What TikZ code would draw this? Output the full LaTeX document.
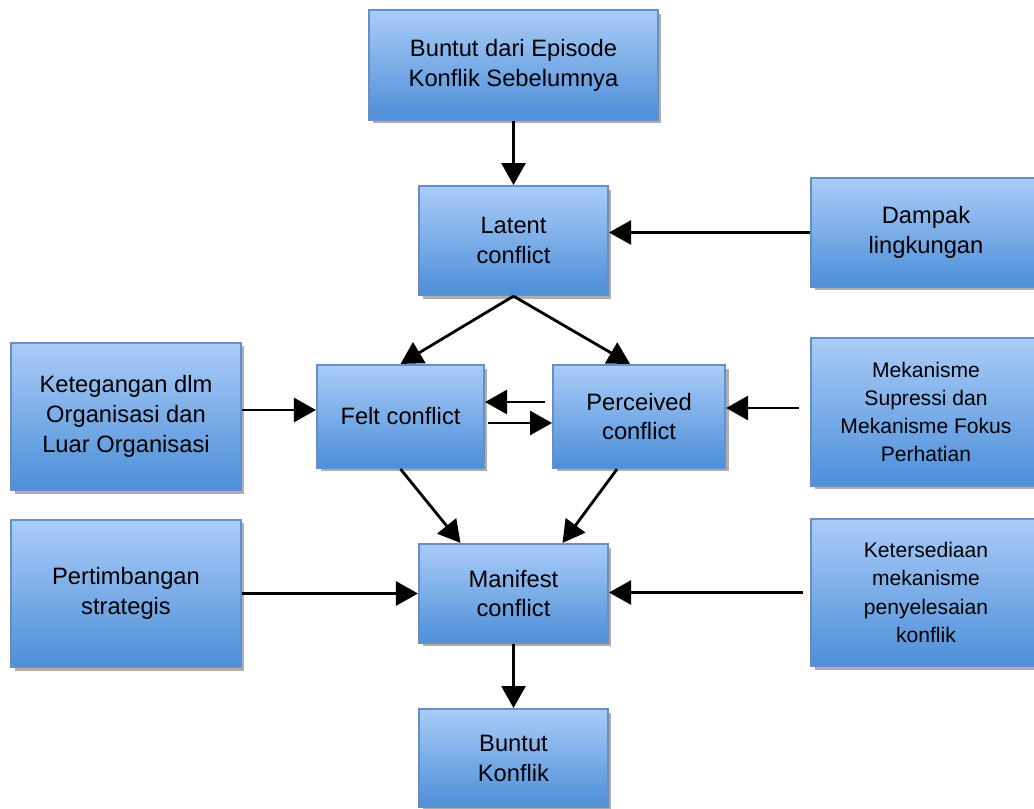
\documentclass[tikz,border=0pt]{standalone}
\usepackage{fontspec}
\setmainfont{Liberation Sans}
\usetikzlibrary{arrows.meta, positioning, shadows}
\definecolor{boxtop}{RGB}{170,204,248}
\definecolor{boxbottom}{RGB}{76,142,216}
\definecolor{boxline}{RGB}{98,145,202}

\begin{document}
\begin{tikzpicture}[
    x=0.02cm, y=-0.02cm,
    stage/.style={rectangle, draw=boxline, line width=1.2pt, top color=boxtop, bottom color=boxbottom, align=center, inner sep=2pt, font=\fontsize{13.5}{17}\selectfont, drop shadow={shadow xshift=0.07cm, shadow yshift=-0.07cm, opacity=0.45, fill=black!70}},
    factor/.style={stage, minimum width=4.6cm, minimum height=2.95cm},
    smallfactor/.style={factor, font=\fontsize{12}{16}\selectfont},
    arrow/.style={-{Triangle[length=0.44cm, width=0.48cm]}, line width=1.6pt}
]
    \useasboundingbox (0,0) rectangle (1034,808);

    % Main chain
    \node[stage, minimum width=5.78cm, minimum height=2.2cm] (episode) at (513.5,65) {Buntut dari Episode\\Konflik Sebelumnya};
    \node[stage, minimum width=3.78cm, minimum height=2.18cm, below=1.28cm of episode] (latent) {Latent\\conflict};
    \node[stage, minimum width=3.34cm, minimum height=2.06cm] (felt) at (400.5,416.5) {Felt conflict};
    \node[stage, minimum width=3.44cm, minimum height=2.06cm, right=1.34cm of felt] (perceived) {Perceived\\conflict};
    \node[stage, minimum width=3.78cm, minimum height=1.98cm] (manifest) at (513.5,593.5) {Manifest\\conflict};
    \node[stage, minimum width=3.78cm, minimum height=1.96cm, below=1.28cm of manifest] (aftermath) {Buntut\\Konflik};

    % Side factors
    \node[factor, minimum height=2.18cm] (dampak) at (926,232.5) {Dampak\\lingkungan};
    \node[factor] (tension) at (126,416.5) {Ketegangan dlm\\Organisasi dan\\Luar Organisasi};
    \node[smallfactor] (suppress) at (926,412) {Mekanisme\\Supressi dan\\Mekanisme Fokus\\Perhatian};
    \node[factor] (strategy) at (126,593.5) {Pertimbangan\\strategis};
    \node[smallfactor] (resolve) at (926,592.5) {Ketersediaan\\mekanisme\\penyelesaian\\konflik};

    % Arrows - main flow
    \draw[arrow] (episode) -- (latent);
    \draw[arrow] (latent.south) -- (felt.north);
    \draw[arrow] (latent.south) -- ([xshift=-0.18cm]perceived.north);
    \draw[arrow, shorten <=0.14cm] ([yshift=0.29cm]perceived.west) -- ([yshift=0.29cm]perceived.west -| felt.east);
    \draw[arrow, shorten <=0.06cm] ([yshift=-0.13cm]felt.east) -- ([yshift=-0.13cm]felt.east -| perceived.west);
    \draw[arrow] (felt.south) -- ([xshift=-1.06cm]manifest.north);
    \draw[arrow] ([xshift=-0.44cm]perceived.south) -- ([xshift=0.98cm]manifest.north);
    \draw[arrow] (manifest) -- (aftermath);

    % Arrows - side factors
    \draw[arrow] (dampak.west) -- (dampak.west -| latent.east);
    \draw[arrow] ([yshift=0.13cm]tension.east) -- ([yshift=0.13cm]tension.east -| felt.west);
    \draw[arrow, shorten <=0.22cm] ([yshift=0.08cm]suppress.west) -- ([yshift=0.08cm]suppress.west -| perceived.east);
    \draw[arrow] (strategy.east) -- (strategy.east -| manifest.west);
    \draw[arrow, shorten <=0.14cm] (resolve.west) -- (resolve.west -| manifest.east);

\end{tikzpicture}
\end{document}
